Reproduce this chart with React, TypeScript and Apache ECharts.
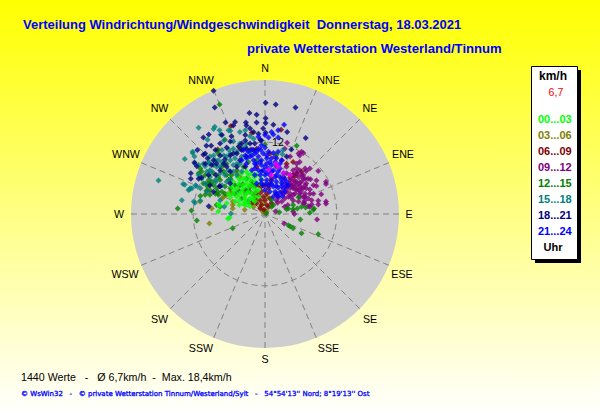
import React, { useEffect, useRef } from "react";
import * as echarts from "echarts";

const directionLabels = ["N","NNE","NE","ENE","E","ESE","SE","SSE","S","SSW","SW","WSW","W","WNW","NW","NNW"];
const ringValues = [12];
const periodLabels = ["00...03","03...06","06...09","09...12","12...15","15...18","18...21","21...24"];
const periodColors = ["#00FF00","#808000","#800000","#800080","#008000","#008080","#000080","#0000FF"];
const peakColor = "#FF00FF";

// Wind readings as [east, north] components in km/h.
const h00: number[][] = [[-6.2,-0.8],[-5.9,-0.6],[-7.8,0.4],[-7.8,1.6],[-7.5,1.4],[-5,2.1],[-4.3,1.5],[-3.6,1.7],[-2.8,1.9],[-5.3,3.4],[-4.7,2.9],[-4.2,2.3],[-3.3,2.6],[-2.5,2.6],[-4.7,4.3],[-3.9,3.7],[-3.1,3.4],[-2.2,3.4],[-1.7,2.9],[-3.6,4.8],[-2.8,4.6],[-1.9,4.3],[-1.1,4],[-4.2,5.7],[-3.3,5.9],[-2.5,5.7],[-1.7,5.4],[-0.8,5.1],[-3.1,7.1],[-2.2,6.8],[-1.4,6.5],[-3.9,6.8],[-4.6,6.2],[-5.3,5.4],[-5.6,4.6],[-6.1,3.4],[-5.8,2.8],[-3.3,1.5],[-2.5,1.3],[-1.7,2.1],[-1.1,2.9],[-4.4,5],[-3.7,4.3],[-3.1,5.2],[-2.4,4.8],[-1.8,6.2],[-5.2,4],[-4.3,3.3],[-3.5,3],[-2.8,3.7],[-2.1,2.6],[-1.5,3.7],[-0.7,5.9],[-2.8,6.5],[-3.6,5.9],[-6.4,1.8],[-3.3,2.1]];
const h03: number[][] = [[-9.3,-1.6],[-8.9,0.9],[-5.4,1.5],[-5.4,0.9],[-3.4,0.7],[-10.9,2.1],[-6.9,2.9],[-6.4,3.2],[-7.2,2.6],[-5.4,2.1],[-1.7,1.8],[-1.4,2.3],[-4.7,6.8],[-4.2,6.2],[0.3,2.9],[-1.9,1.2],[-0.3,1.8],[-0.8,1.2],[-3.3,3.4],[-5.6,3.4],[-5.8,3.7],[-0.4,0.4],[0.3,0.4],[0,0.7]];
const h06: number[][] = [[-5.7,14.7],[-2.2,13.6],[2.7,14.1],[4.7,8.7],[5.3,6.8],[-7.9,10.8],[-1.4,10.9],[-2.5,10.7],[-4.1,10.9],[-1.4,7.9],[0.8,10.1],[-1.1,4.8],[-0.6,4.6],[0,4.8],[0.6,4.3],[-0.6,3.7],[0.3,3.4],[-1.1,3.2],[-0.3,2.9],[-1.7,2.6],[-0.8,2.3],[0,2.3],[0.8,2.6],[-1.4,1.8],[-0.6,1.5],[0.3,1.5],[1.1,1.8],[-2.2,1.8],[-1.4,3.7],[-1.9,3.2],[-2.5,4.6],[0.8,5.1],[1.1,5.9],[3.6,8.4],[6.1,7.1],[4.7,6.5],[4.2,6.1],[0.6,1.2],[-0.8,0.9],[-0.2,0.7],[1.9,3.2],[5,6.3]];
const h09: number[][] = [[3.2,-1.6],[8.7,-0.9],[10.2,5.4],[10.2,5],[8.6,5.6],[7.6,5.8],[8.6,4.7],[7.5,4.1],[6.7,3.4],[9.4,3.3],[10.2,2.1],[10.2,1.7],[8.9,2.2],[8.9,1.6],[7.8,2.3],[7.8,1.6],[6.6,2.2],[6.6,1.8],[7.2,1.3],[5,5.4],[5.3,4.8],[5.8,5.2],[5.6,4],[4.7,4.3],[5,3.4],[4.3,2.8],[3.3,2.6],[2.1,1.9],[1.8,0.4],[4.9,0],[3.8,1.5],[6,3.7],[6.1,4.3],[8.9,7.2],[6.9,7.2],[7.5,7.6],[5.3,8.4],[5.8,7.3],[6.4,6.5],[4.7,6.5],[4.2,5.7],[3.9,4.8],[3.6,3.7],[4.2,3.4],[6.4,5.9],[6.9,5.1],[4.7,7.3],[5.3,6.8],[5.6,6.2],[6.1,5.4],[6.7,4.8],[7.2,5.9],[8.1,4.8],[4.7,3.2],[5.8,2.9],[6.4,2.9],[7.5,3.4],[8.1,3.4],[3.6,6.8],[3.1,6.2],[3.3,5.1],[2.8,3.7],[2.2,2.9],[1.9,2.3],[3.1,3.4],[1.9,7.9],[3.6,7.9],[2.8,9],[3.7,11.9],[6.1,10.4],[5.6,10.1],[5.8,9.8],[6.4,10.2],[6.7,7.6],[3.3,10.9],[4.2,9.6],[1.7,9.6],[5.8,8.7],[4.4,4.8],[5,4.3],[4.2,5.1],[4.7,5.7],[5.3,5.4],[5.8,4.7],[6.4,4.3],[6.9,4.3],[4.7,4.8],[5.3,4],[5.8,3.4],[6.7,2.9],[7.2,2.6],[4.2,4.3],[3.6,4.3],[3.9,2.9],[4.7,2.3],[5.6,2.1],[6.4,1.8],[7.5,1.2],[4.7,0.4],[2.8,2.1],[3.3,1.2],[4.2,6.5],[5.3,7.6],[6.1,6.5],[6.7,5.9]];
const h12: number[][] = [[-7.6,18.3],[-14.6,0.9],[-12.3,0.6],[-11.4,-1.1],[-5.4,-2.4],[-10.8,3],[-9.6,4.6],[-9.8,3.9],[-9.2,5],[-10.6,7.1],[-10,6.5],[-9.4,5.7],[-8.9,5.4],[-8.3,3.4],[-7.8,3.2],[-10.8,7.6],[-9.7,5.1],[-7.9,3.7],[-8.6,6.8],[-6.9,7.1],[-6.1,5.7],[-6.7,4.6],[-7.5,5.7],[-5.8,4.3],[-5,4.8],[-4.4,3.9],[-3.7,5],[-2.9,4],[-2.1,5],[-5.6,6.5],[-6.4,8.4],[-7.8,10.1],[-7.9,10.6],[-6.7,12.4],[5.3,11.4],[1.9,9.9],[0,11.6],[2.4,0.3],[3.6,0.8],[3.9,0.9],[4.7,0.8],[4.7,1.5],[5.4,0.9],[6.1,1.2],[6.8,1.1],[7.5,0.2],[8.1,0.7],[8.2,0.9],[5.9,-0.9],[3.9,-1.9],[4.2,-2.1],[4.7,-2.4],[6.1,-3.2],[8.9,-3.4],[1.1,2.4],[1.4,1.5],[5.6,2.8],[-1.4,9],[-2.8,8.7],[1.1,1.2],[0.2,0.1],[-9.2,4],[-10.3,5.1],[-11.1,6.8],[-8.1,4.3],[-7.2,3.7],[-6.7,3.4],[-8.6,4.8],[-7.8,6.2],[-9.2,3.2],[-10,3.2],[-5.8,5.9],[-4.7,7.3],[-7.2,7.9],[-6.4,6.5],[-3.6,7.9],[-8.1,1.5],[-7.5,1.2],[-3.3,4],[-2.5,3.7],[-4.2,4.8],[-3.1,5.9],[-2.2,5.4],[-5,3.4],[-3.9,2.6],[-1.7,4.6],[-2.8,2.1]];
const h15: number[][] = [[-11.1,14.4],[-13.4,9.2],[-17.8,5.6],[-12.1,10.2],[-8.4,14.6],[-8.6,14.2],[-7.6,14],[-7.4,13.3],[-9.6,12.4],[-5.8,13.9],[-4.2,13.7],[-3.3,14],[-2.5,13],[-1.9,12.6],[-13.7,5],[-13.4,4.9],[-12.8,4],[-12.5,4.3],[-11.5,4.7],[-13.9,2.3],[-11.9,2.1],[-11.7,1.9],[-10.8,2.2],[-11.1,6.5],[-11.7,8.4],[-10.3,8.4],[-10,8],[-9.4,8.7],[-6.9,12.3],[-5.3,12.1],[-6.1,10.8],[-4.7,10.4],[-7.8,9],[-6.7,8.4],[-5.8,9],[-3.9,9.6],[-8.1,7.9],[-8.9,7.1],[-6.7,6.5],[-5.3,7.1],[-4.2,8.4],[-3.3,11.2],[-2.5,10.4],[3,10.7],[2.9,10],[-5.7,0.1],[-7.5,2.3],[-10.8,4.3],[-9.2,7.3],[-7.5,6.8],[-6.1,7.3],[-4.7,6.5],[-5.8,5.7],[-7.2,4.8],[-8.2,5.4],[-3.9,10.9],[-5,9.3],[-6.9,9.8],[-8.6,9.8],[-9.2,9.6],[-12.6,4.1],[-12.2,4.3],[-11.6,4.8],[-9.7,3.7],[-6.8,1.2],[-6.1,14],[-12.1,10.4],[-11.8,9.6],[-11.1,8.2],[-9.3,8.4],[-8.3,9],[-7.2,10.7],[-4.2,11.8],[-3.1,11.8],[-5.3,10.9],[-6.4,9.6],[-4.7,8.4],[-8.6,8.2],[-7.5,7.9],[-9.7,7.1],[-10.6,5.9],[-10,5.1],[-8.3,5.7],[-6.4,5.4],[-3.9,7.1],[-5.3,8.2],[-5.8,10.1],[-7.2,8.7],[-9.2,6.2]];
const h18: number[][] = [[-8.6,20.6],[-8.4,17.8],[0.1,18.6],[1.8,18.3],[5.1,17.8],[-2.6,16.9],[-1.4,16.6],[0.1,16],[0.1,15.2],[1.4,14.9],[-5,15.4],[-6.6,15.3],[-5.3,14.8],[-3.2,15.3],[-3.1,14.8],[-1.4,15.3],[3.7,13.7],[6.8,12.7],[0.1,13.6],[-1.1,13.4],[-10.3,12.8],[-9.4,13.3],[-7.2,13.2],[-5.6,13],[-9.8,11.4],[-9,11.4],[-11.3,10.7],[-10.3,9.9],[-9.6,9.3],[-7.5,11.8],[-6.4,11.1],[-5.8,12.1],[-4.4,11.3],[-3.3,12.3],[-2.5,11.8],[-0.8,12.4],[-7.5,9.8],[-6.7,9.1],[-5.3,10.1],[-3.9,10.7],[-12.4,6.8],[-12.4,5.9],[-10.6,6.1],[-10,8.4],[-9.2,4.8],[-7.6,4.7],[-8.2,6.5],[-9.4,1.3],[-5.8,7.1],[-4.2,9],[-3.1,9.6],[-1.9,10.7],[-6.4,7.9],[-7.5,7.3],[-4.7,7.9],[-3.3,7.9],[4.4,10.8],[3.6,9.6],[-11.8,8.6],[-11.4,8],[-8.6,9],[-10,10.1],[-8.3,10.7],[-11.1,5.9],[-8.9,8.2],[-6.9,8.4],[-5.8,9.8],[-4.7,10.1],[-3.9,11.8],[-3.1,10.9],[-1.7,11.8],[-0.3,14.3],[-3.3,13.2],[-2.5,14.3],[-1.9,13.7],[-0.6,12.3],[-9.4,6.5],[-7.5,4.6],[-8.6,3.7],[-5.8,5.1],[-8.1,8.4]];
const h21: number[][] = [[-3.6,10.7],[-2.8,10.4],[-2.2,10.8],[-3.3,9.8],[-2.5,9.6],[-1.7,10.1],[-1.1,10.9],[-0.6,11.5],[0,11.1],[2.2,10.4],[1.4,10.2],[0.6,10.4],[-0.3,10.1],[-1.1,9.6],[-1.9,9],[-0.6,9],[0.3,9.3],[1.1,9.3],[1.9,9.3],[2.8,9],[-1.4,8.4],[-0.6,8.2],[0.3,8.4],[1.1,8.2],[1.9,8.2],[2.5,7.6],[-1.1,7.3],[-0.3,7.3],[0.6,7.6],[1.4,7.3],[2.2,7.1],[3.1,6.8],[-0.8,6.5],[0,6.5],[0.8,6.5],[1.7,6.2],[2.5,6.2],[3.3,5.9],[-0.6,5.7],[0.3,5.7],[1.1,5.6],[1.9,5.4],[2.8,5.2],[3.6,5.4],[-0.3,4.8],[0.6,4.7],[1.4,4.6],[2.2,4.4],[3.1,4.3],[3.9,4.8],[1.7,3.7],[2.5,3.6],[3.3,3.7],[1.4,2.9],[2.2,2.9],[0.8,3.7],[0,4],[-1.7,6.5],[-2.2,7.3],[-3.1,8.4],[-3.9,9],[-1.4,5.1],[1.1,13.7],[1.4,13.3],[3.2,14.9],[2.2,14],[-1.1,12.9],[0,13.2],[2.2,12.8],[0.6,12.8],[-0.7,10.7],[0.3,9.8],[-1.4,10.4],[-2.2,9.8],[-3.1,9.3],[-0.8,8.7],[0,7.9],[0.8,8.7],[1.7,8.7],[2.5,8.4],[-0.6,7.1],[0.3,6.9],[1.1,7.1],[1.9,6.5],[2.8,5.7],[-0.6,5.1],[1.1,5],[1.9,4.7],[2.8,4.7],[3.6,4.7],[1.9,3.4],[2.9,3],[0.3,5.1],[-1.7,8.4],[-1.7,7.6]];
const peaks: number[][] = [[0.6,7.4],[3.1,6.9],[1.1,6.5],[4.2,6.5],[1.8,8.4],[2.2,7.9]];
const periodValues = [h00,h03,h06,h09,h12,h15,h18,h21];

const speedUnit = "km/h";
const meanSpeed = "6,7";
const hourUnit = "Uhr";
const titleText = "Verteilung Windrichtung/Windgeschwindigkeit  Donnerstag, 18.03.2021";
const stationText = "private Wetterstation Westerland/Tinnum";
const statsText = "1440 Werte   -   Ø 6,7km/h  -  Max. 18,4km/h";
const footerText = "© WsWin32   -   © private Wetterstation Tinnum/Westerland/Sylt   -   54°54'13'' Nord; 8°19'13'' Ost";

const toPolar = (p: number[]) => {
  const speed = Math.hypot(p[0], p[1]);
  const dir = (Math.atan2(p[0], p[1]) * 180) / Math.PI;
  return [speed, dir < 0 ? dir + 360 : dir];
};

const FONT = "Liberation Sans";
const labelSpots = [[265,68],[328.5,80],[370,108],[403,154],[409,214],[402,274],[370,319],[328.5,348],[265,359],[201,348],[159.5,319],[125,274],[119,214],[126,154],[159.5,108],[201,80]];
const seriesLayers = [3,2,2,2,2,3,3,3];

export default function App() {
  const ref = useRef<HTMLDivElement>(null);
  useEffect(() => {
    document.body.style.margin = "0";
    const chart = echarts.init(ref.current!, undefined, { renderer: "svg" });
    const series: any[] = periodLabels.map((name, i) => ({
      name,
      type: "scatter",
      coordinateSystem: "polar",
      symbol: "diamond",
      symbolSize: 6,
      z: seriesLayers[i],
      itemStyle: { color: periodColors[i] },
      data: periodValues[i].map(toPolar),
      silent: true,
    }));
    series.push({
      name: "Spitze",
      type: "scatter",
      coordinateSystem: "polar",
      symbol: "diamond",
      symbolSize: 6,
      z: 3,
      itemStyle: { color: peakColor },
      data: peaks.map(toPolar),
      silent: true,
    });
    chart.setOption({
      animation: false,
      backgroundColor: {
        type: "linear", x: 0, y: 0, x2: 0, y2: 1,
        colorStops: [{ offset: 0, color: "#FFFF00" }, { offset: 1, color: "#FFFFFF" }],
      },
      title: [
        { text: titleText, left: 23, top: 18, padding: 0, textStyle: { color: "#0000FF", fontFamily: FONT, fontSize: 13, fontWeight: "bold" } },
        { text: stationText, left: 247, top: 42, padding: 0, textStyle: { color: "#0000FF", fontFamily: FONT, fontSize: 13.1, fontWeight: "bold" } },
        { text: statsText, left: 21, top: 371, padding: 0, textStyle: { color: "#000000", fontFamily: FONT, fontSize: 10.67, fontWeight: "normal" } },
        { text: footerText, left: 21, top: 390, padding: 0, textStyle: { color: "#0000FF", fontFamily: "DejaVu Sans", fontSize: 7, fontWeight: "normal", textBorderColor: "#0000FF", textBorderWidth: 0.3 } },
      ],
      polar: { center: [265, 214], radius: 134 },
      angleAxis: {
        type: "value", min: 0, max: 360, interval: 22.5, startAngle: 90, clockwise: true,
        axisLine: { show: false }, axisTick: { show: false }, axisLabel: { show: false },
        splitLine: { show: true, lineStyle: { color: "#808080", width: 1, type: [6, 4] } },
      },
      radiusAxis: {
        type: "value", min: 0, max: 22.4, interval: ringValues[0],
        axisLine: { show: false }, axisTick: { show: false },
        axisLabel: {
          color: "#000", fontFamily: FONT, fontSize: 10.67, align: "left", margin: -7,
          formatter: (v: number) => (ringValues.includes(v) ? String(v) : ""),
        },
        splitLine: { show: true, lineStyle: { color: ["transparent", "#808080", "transparent"], width: 1, type: [6, 4] } },
      },
      legend: {
        orient: "vertical", left: 533, top: 113, itemGap: 5, itemWidth: 0, itemHeight: 11,
        icon: "none", selectedMode: false, padding: 0,
        data: periodLabels.map((name, i) => ({
          name, icon: "none",
          textStyle: { color: periodColors[i], fontFamily: FONT, fontSize: 11, fontWeight: "bold" },
        })),
      },
      graphic: [
        { type: "circle", z: -10, silent: true, shape: { cx: 265, cy: 214, r: 134 }, style: { fill: "#CECECE" } },
        ...directionLabels.map((text, i) => ({
          type: "text", z: 3, silent: true, x: labelSpots[i][0], y: labelSpots[i][1],
          style: { text, align: "center", verticalAlign: "middle", fill: "#000", font: `10.67px '${FONT}'` },
        })),
        { type: "rect", z: 1, silent: true, shape: { x: 535, y: 70, width: 46, height: 193 }, style: { fill: "#000" } },
        { type: "rect", z: 2, silent: true, shape: { x: 531.5, y: 66.5, width: 46, height: 193 }, style: { fill: "#FFF", stroke: "#000", lineWidth: 1 } },
        { type: "text", z: 3, silent: true, x: 553, y: 76, style: { text: speedUnit, align: "center", verticalAlign: "middle", fill: "#000", font: `bold 12px '${FONT}'` } },
        { type: "text", z: 3, silent: true, x: 556, y: 92, style: { text: meanSpeed, align: "center", verticalAlign: "middle", fill: "#FF0000", font: `10.67px '${FONT}'` } },
        { type: "text", z: 3, silent: true, x: 553, y: 247, style: { text: hourUnit, align: "center", verticalAlign: "middle", fill: "#000", font: `bold 11px '${FONT}'` } },
      ],
      series,
    });
    return () => chart.dispose();
  }, []);
  return <div ref={ref} style={{ position: "absolute", left: 0, top: 0, width: 600, height: 415 }} />;
}
